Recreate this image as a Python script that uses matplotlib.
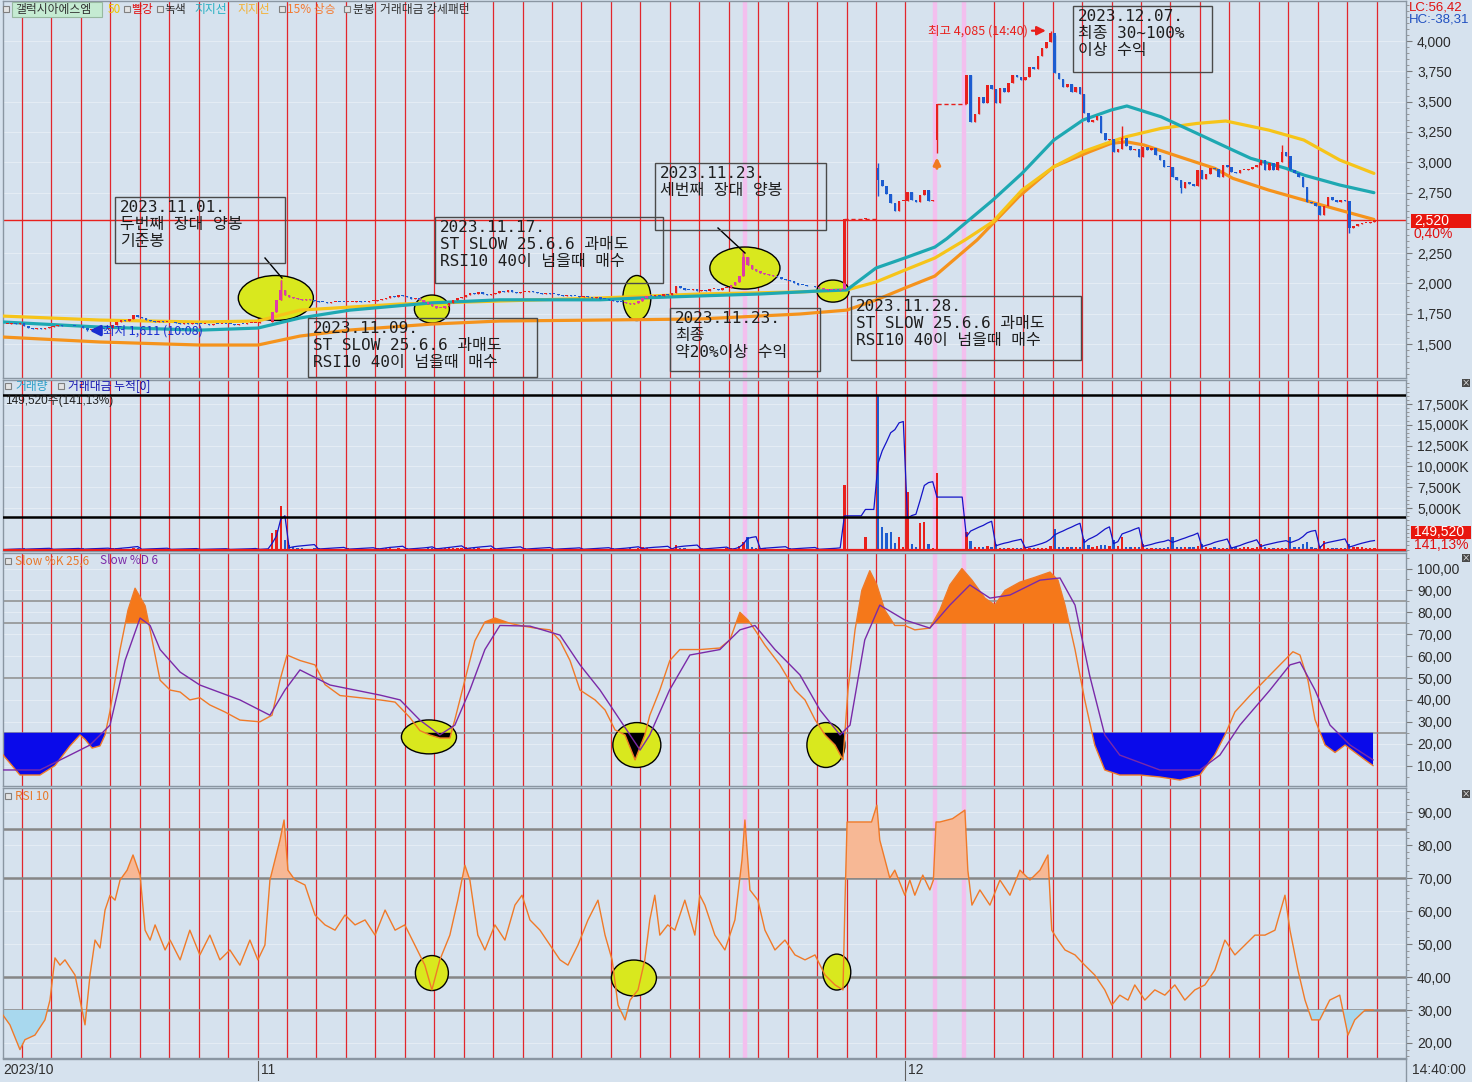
import numpy as np
import matplotlib
matplotlib.use("Agg")
import matplotlib.pyplot as plt
from matplotlib.patches import Rectangle, Ellipse
from matplotlib.ticker import MultipleLocator

plt.rcParams['font.family'] = ['Noto Sans CJK KR', 'DejaVu Sans']
plt.rcParams['axes.unicode_minus'] = False

nan = float('nan')
W, H = 1472, 1082

# ------------------------------------------------------------------ data
FIRST_DAY = -1          # partial session shown at the far left
SLOTS = 7               # hourly bars per session

close_days = [
    [nan, nan, nan, 1668, 1672, 1665, 1670],
    [1645, 1635, 1628, 1632, 1625, 1630, 1638],
    [1650, 1655, 1648, 1645, 1652, 1650, 1645],
    [1630, 1618, 1622, 1625, 1630, 1628, 1635],
    [1660, 1680, 1700, 1690, 1710, 1738, 1725],
    [1715, 1700, 1690, 1685, 1692, 1680, 1685],
    [1678, 1672, 1668, 1673, 1666, 1670, 1668],
    [1665, 1668, 1660, 1665, 1662, 1668, 1665],
    [1662, 1660, 1666, 1664, 1670, 1672, 1676],
    [1680, 1678, 1682, 1765, 1863, 1945, 1905],
    [1890, 1880, 1872, 1866, 1870, 1862, 1858],
    [1850, 1845, 1840, 1846, 1850, 1848, 1845],
    [1846, 1850, 1856, 1850, 1848, 1853, 1856],
    [1862, 1870, 1882, 1896, 1890, 1905, 1898],
    [1885, 1872, 1876, 1862, 1848, 1830, 1815],
    [1800, 1795, 1815, 1840, 1862, 1878, 1890],
    [1905, 1922, 1915, 1926, 1912, 1905, 1912],
    [1922, 1936, 1930, 1942, 1932, 1925, 1930],
    [1932, 1936, 1926, 1920, 1915, 1921, 1916],
    [1910, 1905, 1900, 1906, 1900, 1895, 1890],
    [1895, 1888, 1880, 1885, 1875, 1868, 1862],
    [1858, 1850, 1845, 1838, 1830, 1836, 1852],
    [1880, 1900, 1895, 1905, 1898, 1910, 1905],
    [1920, 1975, 1960, 1950, 1945, 1952, 1940],
    [1945, 1940, 1952, 1955, 1948, 1960, 1966],
    [1985, 2010, 2060, 2220, 2150, 2120, 2100],
    [2090, 2080, 2068, 2060, 2050, 2040, 2030],
    [2020, 2002, 1990, 1985, 1980, 1975, 1970],
    [1962, 1955, 1948, 1944, 1950, 1958, 2530],
    [nan, nan, nan, nan, 2530, nan, nan],
    [2850, 2800, 2740, 2660, 2600, 2680, 2680],
    [2757, 2690, 2675, 2730, 2770, 2680, 2690],
    [3480, nan, nan, nan, nan, nan, nan],
    [3720, 3330, 3400, 3540, 3485, 3640, 3600],
    [3485, 3610, 3580, 3650, 3720, 3705, 3680],
    [3700, 3788, 3770, 3880, 3940, 3990, 4063],
    [3733, 3690, 3623, 3645, 3582, 3620, 3560],
    [3403, 3335, 3350, 3380, 3238, 3183, 3190],
    [3087, 3110, 3197, 3130, 3100, 3110, 3046],
    [3128, 3100, 3115, 3060, 3018, 2963, 2960],
    [2880, 2853, 2790, 2840, 2820, 2800, 2935],
    [2865, 2905, 2950, 2945, 2880, 2975, 2960],
    [2920, 2910, 2935, 2935, 2940, 2960, 2975],
    [3018, 2935, 2990, 2935, 3005, 3087, 3050],
    [2935, 2908, 2880, 2798, 2675, 2660, 2640],
    [2565, 2640, 2715, 2690, 2675, 2690, 2680],
    [2455, 2475, 2490, 2500, 2500, 2510, 2520],
]

volume_days = [   # thousand shares
    [0, 0, 0, 80, 60, 50, 70],
    [150, 60, 50, 40, 60, 50, 80],
    [120, 60, 40, 50, 40, 50, 70],
    [160, 90, 60, 50, 40, 50, 90],
    [200, 150, 180, 100, 120, 200, 150],
    [120, 80, 60, 50, 50, 60, 80],
    [100, 50, 40, 40, 40, 50, 60],
    [80, 40, 40, 30, 40, 40, 60],
    [80, 40, 50, 40, 50, 60, 90],
    [100, 80, 90, 2000, 2350, 5240, 1150],
    [600, 300, 200, 150, 120, 120, 150],
    [200, 100, 80, 80, 70, 80, 120],
    [150, 80, 80, 70, 60, 80, 100],
    [200, 150, 200, 180, 100, 150, 120],
    [150, 100, 90, 100, 120, 150, 200],
    [250, 150, 150, 180, 160, 150, 200],
    [300, 200, 150, 150, 120, 100, 150],
    [200, 150, 100, 120, 100, 80, 120],
    [150, 100, 80, 80, 70, 80, 100],
    [120, 80, 70, 70, 60, 70, 100],
    [120, 80, 80, 70, 70, 80, 120],
    [150, 100, 100, 120, 150, 120, 200],
    [300, 250, 120, 100, 80, 120, 100],
    [200, 550, 200, 150, 100, 100, 120],
    [150, 100, 100, 100, 80, 100, 150],
    [150, 150, 400, 950, 1550, 300, 200],
    [250, 150, 100, 100, 80, 80, 100],
    [150, 100, 80, 80, 70, 70, 100],
    [100, 80, 80, 70, 90, 120, 7765],
    [0, 0, 0, 0, 1550, 0, 0],
    [18580, 2740, 1940, 2140, 740, 1550, 300],
    [6960, 620, 300, 3150, 3270, 660, 200],
    [9250, 0, 0, 0, 0, 0, 0],
    [2140, 1020, 350, 350, 300, 400, 300],
    [660, 250, 200, 150, 200, 150, 150],
    [300, 150, 150, 200, 200, 250, 400],
    [2430, 350, 300, 350, 300, 350, 300],
    [1260, 600, 350, 400, 600, 600, 400],
    [1180, 400, 1470, 300, 300, 350, 300],
    [630, 200, 200, 250, 200, 150, 300],
    [1550, 300, 350, 300, 350, 300, 400],
    [630, 300, 250, 350, 250, 200, 250],
    [300, 300, 250, 350, 300, 250, 300],
    [630, 300, 200, 200, 200, 150, 150],
    [1470, 300, 350, 630, 900, 350, 170],
    [400, 1020, 250, 200, 200, 200, 200],
    [630, 300, 350, 300, 250, 250, 150],
]

open_override = {(29, 0): 2950, (31, 0): 3180}
high_override = {(8, 5): 2030, (24, 3): 2265, (29, 0): 2990, (34, 6): 4085,
                 (35, 0): 4050, (37, 2): 3300, (42, 5): 3140}
low_override = {(2, 1): 1611, (29, 0): 2720, (31, 0): 3073, (39, 2): 2745, (45, 0): 2420}

# moving-average style lines: (session position, price)
ma_yellow = [(-0.65, 1731), (2.65, 1698), (6.04, 1682), (8.01, 1690), (9.44, 1780),
             (12.84, 1830), (16.23, 1855), (19.63, 1880), (23.02, 1913), (26.42, 1930),
             (28.01, 1946), (29.0, 2012), (29.98, 2110), (31.0, 2210), (32.02, 2358),
             (32.97, 2509), (33.96, 2770), (35.04, 2963), (36.03, 3087), (36.98, 3169),
             (37.49, 3210), (38.68, 3279), (39.90, 3320), (40.88, 3340), (42.34, 3265),
             (43.53, 3183), (44.75, 3018), (45.91, 2908)]
ma_teal = [(-0.65, 1682), (2.65, 1640), (6.04, 1615), (8.01, 1632), (9.44, 1715),
           (11.14, 1780), (13.92, 1840), (16.23, 1865), (19.63, 1865), (20.99, 1880),
           (23.02, 1897), (25.06, 1913), (27.1, 1938), (28.01, 1946), (29.0, 2127),
           (29.98, 2210), (31.0, 2300), (31.41, 2370), (31.85, 2460), (32.97, 2688),
           (33.96, 2908), (35.04, 3183), (36.03, 3348), (36.98, 3430), (37.52, 3464),
           (38.68, 3375), (39.90, 3238), (41.12, 3100), (41.73, 3032), (42.92, 2950),
           (43.53, 2894), (44.75, 2812), (45.91, 2749)]
ma_orange = [(-0.65, 1558), (2.65, 1517), (6.04, 1492), (8.01, 1492), (9.44, 1566),
             (11.14, 1616), (13.92, 1665), (16.23, 1690), (19.63, 1698), (23.02, 1707),
             (26.42, 1748), (28.01, 1780), (29.0, 1863), (29.98, 1962), (31.0, 2061),
             (32.43, 2358), (33.85, 2716), (35.04, 2963), (36.26, 3087), (36.98, 3155),
             (37.49, 3169), (38.10, 3142), (39.29, 3046), (40.51, 2949), (41.12, 2867),
             (42.34, 2770), (43.53, 2688), (44.75, 2605), (45.91, 2528)]

stoch_k_day = [-0.65, -0.07, 0.61, 1.12, 1.63, 1.97, 2.14, 2.38, 2.65, 2.82,
               2.99, 3.33, 3.60, 3.84, 4.18, 4.35, 4.69, 5.03, 5.37, 5.70,
               6.04, 6.38, 6.89, 7.40, 8.08, 8.49, 8.76, 9.00, 9.44, 9.95,
               10.29, 10.80, 11.48, 12.16, 12.67, 13.17, 13.51, 13.85, 14.19, 14.53,
               14.70, 15.04, 15.38, 15.72, 16.06, 16.57, 16.91, 17.42, 17.93, 18.27,
               18.61, 18.95, 19.46, 19.80, 20.14, 20.48, 20.82, 21.15, 21.32, 21.66,
               22.00, 22.34, 23.02, 23.70, 24.04, 24.38, 24.65, 24.89, 25.23, 25.74,
               26.25, 26.59, 26.93, 27.27, 27.61, 27.88, 28.05, 28.29, 28.52, 28.79,
               29.03, 29.30, 29.64, 29.98, 30.32, 30.83, 31.17, 31.51, 31.92, 32.26,
               32.70, 33.04, 33.38, 33.89, 34.40, 34.91, 35.18, 35.42, 35.76, 36.09,
               36.43, 36.77, 37.28, 37.96, 38.64, 39.32, 40.00, 40.51, 40.85, 41.19,
               41.70, 42.21, 42.72, 43.16, 43.40, 43.67, 43.91, 44.25, 44.59, 44.93,
               45.27, 45.61, 45.88]
stoch_k = [15, 5.7, 5.7, 10, 19, 24, 22, 18, 19, 24,
           35, 63, 81, 91, 83, 72, 49, 44.5, 43.6, 40,
           41, 37.7, 34.5, 30.8, 30, 33, 49, 60.5, 58, 56,
           47, 42, 41, 40, 39, 32, 26, 24, 22.6, 22.6,
           31, 49, 67, 75.6, 77.4, 75, 74, 72.8, 72, 67,
           58, 44.5, 40, 35.4, 26.3, 24, 12.6, 24, 33, 44.5,
           58, 63, 63, 63.7, 67.4, 80, 76.5, 72, 65, 56,
           44.5, 40, 31, 24, 19.4, 12.6, 44.5, 72, 90, 99,
           92.5, 81, 74, 74, 72, 72.8, 81, 92.5, 100, 94.7,
           86.5, 83.3, 90, 93.8, 96, 98.4, 94.7, 83.3, 63, 40,
           19.4, 8, 5.7, 5.7, 4.8, 3.4, 5.7, 15, 24, 34.5,
           42, 49, 56, 62, 60.5, 49, 31, 19.4, 16, 19.4,
           16, 12.6, 10]
stoch_d_day = [-0.65, 0.61, 1.63, 2.31, 2.99, 3.50, 4.01, 4.35, 4.69, 5.37,
               6.04, 7.40, 8.42, 8.93, 9.44, 10.46, 12.16, 12.84, 13.51, 14.19,
               14.70, 15.21, 15.72, 16.23, 17.25, 18.27, 18.95, 19.63, 20.31, 20.99,
               21.32, 21.99, 22.68, 23.70, 24.38, 24.89, 25.57, 26.42, 27.10, 27.78,
               28.12, 28.62, 29.13, 29.98, 30.83, 31.51, 32.19, 32.87, 33.55, 34.57,
               35.25, 35.76, 36.26, 36.77, 37.28, 38.64, 40.00, 40.68, 41.36, 42.38,
               43.06, 43.40, 43.91, 44.42, 45.10, 45.88]
stoch_d = [8, 8, 14.8, 19.4, 28.5, 58, 77.4, 74, 63, 52.7,
           46.8, 40, 33, 44.5, 53.7, 46.8, 42.2, 40, 30.8, 24,
           28.5, 44.5, 63, 74, 73.7, 69.6, 56, 44.5, 30.8, 17.1,
           24, 44.5, 60.5, 63, 72, 74, 63, 51.4, 35.4, 24,
           28.5, 67.4, 83.3, 76.5, 72.8, 83.3, 92.5, 86.5, 87.9, 94.7,
           95.7, 83.3, 51, 24, 14.8, 8, 8, 14.8, 28.5, 44.5,
           56, 57.3, 44.5, 28.5, 19.4, 12.6]

rsi_points = [(-0.65, 28.5), (-0.41, 25.5), (-0.07, 18), (0.10, 21), (0.44, 22.4), (0.78, 27),
              (0.95, 33), (1.12, 45.8), (1.29, 43.6), (1.46, 45.2), (1.80, 40.6), (1.97, 33),
              (2.14, 25.5), (2.31, 40.6), (2.48, 51.2), (2.65, 48.8), (2.82, 60.3), (2.99, 64.8),
              (3.16, 63.3), (3.33, 69.4), (3.57, 72.4), (3.77, 77), (4.01, 70.9), (4.18, 54.2),
              (4.35, 51.2), (4.52, 55.8), (4.86, 48.2), (5.03, 51.2), (5.37, 45.2), (5.70, 54.2),
              (6.04, 46.7), (6.38, 52.7), (6.72, 45.2), (7.06, 48.2), (7.40, 43.6), (7.74, 51.2),
              (8.01, 45.2), (8.25, 49.7), (8.42, 69.4), (8.59, 75.5), (8.76, 81.5), (8.90, 87.6),
              (9.03, 72.4), (9.27, 69.4), (9.61, 67.9), (9.95, 58.8), (10.29, 55.8), (10.63, 54.2),
              (10.97, 58.8), (11.31, 55.8), (11.65, 57.3), (11.99, 52.7), (12.33, 60.3), (12.67, 54.2),
              (13.00, 55.8), (13.34, 49.7), (13.68, 43.6), (13.92, 36.1), (14.19, 45.2), (14.53, 52.7),
              (14.80, 63.3), (15.04, 73.9), (15.21, 69.4), (15.48, 52.7), (15.72, 48.2), (16.06, 55.8),
              (16.40, 51.2), (16.74, 61.8), (16.98, 64.8), (17.25, 57.3), (17.59, 54.2), (17.93, 49.7),
              (18.27, 45.2), (18.54, 43.6), (18.88, 49.7), (19.22, 57.3), (19.56, 63.3), (19.80, 52.7),
              (20.04, 45.2), (20.24, 31.5), (20.48, 27), (20.65, 33), (20.92, 36.1), (21.15, 45.2),
              (21.32, 57.3), (21.49, 64.8), (21.66, 52.7), (21.93, 55.8), (22.17, 54.2), (22.51, 63.3),
              (22.85, 52.7), (23.02, 64.8), (23.19, 61.8), (23.53, 52.7), (23.87, 48.2), (24.21, 57.3),
              (24.45, 75.5), (24.55, 87.6), (24.72, 66.4), (24.99, 63.3), (25.23, 54.2), (25.57, 48.2),
              (25.91, 51.2), (26.25, 46.7), (26.59, 45.2), (26.93, 46.7), (27.27, 40.6), (27.61, 37.6),
              (27.88, 36.1), (27.95, 63.3), (28.02, 87), (28.50, 87), (28.85, 87), (29.03, 92.1),
              (29.13, 81.5), (29.47, 70), (29.64, 72.4), (29.98, 64.8), (30.15, 69.4), (30.32, 64.8),
              (30.59, 70.9), (30.83, 66.4), (30.95, 69.4), (31.04, 87), (31.17, 87), (31.60, 88),
              (32.02, 90.6), (32.12, 72.4), (32.26, 61.8), (32.53, 66.4), (32.87, 61.8), (33.21, 69.4),
              (33.55, 64.8), (33.89, 72.4), (34.23, 69.4), (34.57, 72.4), (34.84, 77), (34.97, 54.2),
              (35.18, 51.2), (35.42, 48.2), (35.76, 46.7), (36.09, 43.6), (36.43, 40.6), (36.77, 36.1),
              (37.01, 31.5), (37.28, 34.5), (37.56, 33), (37.79, 37.6), (38.13, 33), (38.47, 36.1),
              (38.81, 34.5), (39.15, 37.6), (39.49, 33), (39.83, 36.1), (40.17, 37.6), (40.51, 42.1),
              (40.85, 51.2), (41.19, 46.7), (41.53, 49.7), (41.87, 52.7), (42.21, 52.7), (42.55, 54.2),
              (42.89, 64.8), (43.06, 54.2), (43.33, 42.1), (43.57, 33), (43.80, 27), (44.07, 27),
              (44.41, 33), (44.75, 34.5), (45.03, 22.4), (45.26, 27), (45.61, 30), (45.88, 30)]

price_ticks = [1500, 1750, 2000, 2250, 2750, 3000, 3250, 3500, 3750, 4000]
volume_ticks = [5000, 7500, 10000, 12500, 15000, 17500]
stoch_ticks = [10, 20, 30, 40, 50, 60, 70, 80, 90, 100]
rsi_ticks = [20, 30, 40, 50, 60, 70, 80, 90]
stoch_levels = [85, 75, 50, 25]
rsi_levels = [85, 70, 40, 30]
VOL_REF_LINE = 3900
CUM_SCALE = 5100.0     # trading value -> volume-axis units

# ------------------------------------------------------------------ build bars
xs, op, hi, lo, cl, vo, sl = [], [], [], [], [], [], []
prev_close = None
for di, (cday, vday) in enumerate(zip(close_days, volume_days)):
    day = FIRST_DAY + di
    for j in range(SLOTS):
        cc = cday[j]
        xs.append(day + (j + 0.5) / SLOTS)
        sl.append(j)
        vo.append(vday[j])
        if np.isnan(cc):
            op.append(nan); hi.append(nan); lo.append(nan); cl.append(nan)
            continue
        oo = open_override.get((day, j), prev_close if prev_close is not None else cc)
        op.append(oo)
        cl.append(cc)
        hi.append(high_override.get((day, j), max(oo, cc)))
        lo.append(low_override.get((day, j), min(oo, cc)))
        prev_close = cc
xs, op, hi, lo, cl, vo, sl = map(np.array, (xs, op, hi, lo, cl, vo, sl))
valid = ~np.isnan(cl)

cum_line = np.zeros(len(xs))
run = 0.0
for i in range(len(xs)):
    if valid[i]:
        if sl[i] == 0:
            run = 0.0
        run += vo[i] * cl[i] / CUM_SCALE
    cum_line[i] = run

# ------------------------------------------------------------------ styling
BG = '#d6e2ee'
RED = '#e8201c'
BLUE = '#1c5cd0'
DAYLINE = '#e2262c'
PINK = '#f3bfee'
NARROW = ['Liberation Sans', 'Noto Sans CJK KR']
XLIM = (-0.645, 47.0)

fig = plt.figure(figsize=(W / 100, H / 100), dpi=100, facecolor=BG)


def ftext(px, py, s, **kw):
    return fig.text(px / W, 1 - py / H, s, **kw)


def frect(px, py, w, h, **kw):
    r = Rectangle((px / W, 1 - (py + h) / H), w / W, h / H, transform=fig.transFigure, **kw)
    fig.add_artist(r)
    return r


def panel(top, bottom, ylim, ticks, minor, fmt):
    ax = fig.add_axes([3 / W, 1 - bottom / H, 1403 / W, (bottom - top) / H])
    ax.set_facecolor(BG)
    ax.set_xlim(*XLIM)
    ax.set_ylim(*ylim)
    ax.set_xticks([])
    ax.yaxis.tick_right()
    ax.set_yticks(ticks, labels=[fmt(t) for t in ticks], fontfamily=NARROW, fontsize=10,
                  color='#2b2b2b')
    ax.yaxis.set_minor_locator(MultipleLocator(minor))
    ax.tick_params(axis='y', which='major', length=4, width=0.8, color='#7a7a7a', pad=4)
    ax.tick_params(axis='y', which='minor', length=2, width=0.6, color='#8a8a8a')
    for s in ax.spines.values():
        s.set_color('#8a96a2')
        s.set_linewidth(1)
    for t in ticks:
        ax.axhline(t, color='#e4ecf4', lw=0.8, zorder=0.5)
    for d in range(0, 47):
        if d in (31, 32):
            continue
        ax.axvline(d, color=DAYLINE, lw=0.9, zorder=1)
    for d in (24.55, 31, 32):
        ax.axvline(d, color=PINK, lw=3.2, zorder=1)
    return ax


ax1 = panel(1, 378, (1220, 4330), price_ticks, 50, lambda v: f"{v:,}")
ax2 = panel(380, 551, (-168, 20386), volume_ticks, 500, lambda v: f"{v:,}K")
ax3 = panel(553, 786, (0.68, 107.1), stoch_ticks, 5, lambda v: f"{v},00")
ax4 = panel(788, 1058, (15.45, 97.3), rsi_ticks, 2, lambda v: f"{v},00")
ax1.set_yticks([2500], minor=False) if False else None
ax2.yaxis.set_minor_locator(MultipleLocator(500))

# ------------------------------------------------------------------ price panel
for pts, col in ((ma_orange, '#f5931c'), (ma_yellow, '#f6c419'), (ma_teal, '#1ea8b2')):
    a = np.array(pts)
    ax1.plot(a[:, 0], a[:, 1], color=col, lw=2.3, zorder=3, solid_capstyle='round')

price_circles = [((8.62, 1880), 2.55, 371), ((13.92, 1789), 1.19, 231), ((20.88, 1880), 0.95, 371),
                 ((24.55, 2127), 2.38, 347), ((27.54, 1937), 1.09, 182)]
ellipses1 = []
for (cx, cy), w, h in price_circles:
    e = Ellipse((cx, cy), w, h, facecolor='#d9e81e', edgecolor='black', lw=1, zorder=2.5)
    ax1.add_patch(e)
    ellipses1.append(e)


def draw_candles(ax, cu, cd, clip=None, z=6):
    up = cl >= op
    cols = np.where(up, cu, cd)
    bot = np.minimum(op, cl)
    hgt = np.maximum(np.abs(cl - op), 8)
    bars = ax.bar(xs[valid], hgt[valid], bottom=bot[valid], width=0.62 / SLOTS,
                  color=cols[valid], lw=0, zorder=z)
    wick = ax.vlines(xs[valid], lo[valid], hi[valid], colors=cols[valid], lw=1, zorder=z - 0.1)
    if clip is not None:
        for p in bars.patches:
            p.set_clip_path(clip)
        wick.set_clip_path(clip)


draw_candles(ax1, RED, BLUE)
for e in ellipses1:
    draw_candles(ax1, '#e03aa8', '#e03aa8', clip=e, z=6.5)

vidx = np.where(valid)[0]
for a_, b_ in zip(vidx[:-1], vidx[1:]):
    if b_ - a_ > 1:
        ax1.plot([xs[a_], xs[b_]], [cl[a_], cl[a_]], color=RED, lw=1, ls=(0, (3, 2)), zorder=5)

last_close = cl[vidx[-1]]
ax1.axhline(last_close, color=RED, lw=1, zorder=2)

i_hi = int(np.nanargmax(hi))
ax1.annotate(f"최고 {int(hi[i_hi]):,} (14:40)", xy=(xs[i_hi] - 0.16, hi[i_hi]),
             xytext=(-13, 0), textcoords='offset points', ha='right', va='center',
             fontsize=9, color=RED,
             arrowprops=dict(arrowstyle='-|>', color=RED, lw=1.6, mutation_scale=13,
                             shrinkA=1, shrinkB=0), zorder=8)
i_lo = int(np.nanargmin(lo))
ax1.annotate(f"최저 {int(lo[i_lo]):,} (10:08)", xy=(xs[i_lo] + 0.08, lo[i_lo]),
             xytext=(10, 0), textcoords='offset points', ha='left', va='center',
             fontsize=9, color='#1a2fd0',
             arrowprops=dict(arrowstyle='-|>', color='#1a2fd0', lw=2.2, mutation_scale=15,
                             shrinkA=1, shrinkB=0), zorder=8)
# +15% signal arrow under the gap-up bar
sig_x = 31 + 0.5 / SLOTS
ax1.annotate('', xy=(sig_x, 3040), xytext=(sig_x, 2950),
             arrowprops=dict(arrowstyle='-|>', color='#f07a20', lw=2.2, mutation_scale=10,
                             shrinkA=0, shrinkB=0), zorder=8)

# ------------------------------------------------------------------ volume panel
vcols = np.where(cl >= op, RED, BLUE)
m = valid & (vo > 0)
ax2.bar(xs[m], vo[m], width=0.55 / SLOTS, color=vcols[m], lw=0, zorder=3)
ax2.plot(xs, cum_line, color='#1414c8', lw=0.9, zorder=4)
ax2.axhline(0, color=RED, lw=1.6, zorder=4)
ax2.axhline(vo.max(), color='black', lw=1.8, zorder=4)
ax2.axhline(VOL_REF_LINE, color='black', lw=1.8, zorder=4)

# ------------------------------------------------------------------ stochastic panel
kx, kv = np.array(stoch_k_day), np.array(stoch_k)
dx, dv = np.array(stoch_d_day), np.array(stoch_d)
for lv in stoch_levels:
    ax3.axhline(lv, color='#8c8c8c', lw=1.1, zorder=1.5)
ax3.fill_between(kx, kv, 75, where=kv > 75, interpolate=True, color='#f5781a', lw=0, zorder=2)
ax3.fill_between(kx, kv, 25, where=kv < 25, interpolate=True, color='#0a0aea', lw=0, zorder=2)
stoch_circles = [((13.82, 23.1), 1.87, 15.5), ((20.88, 19.4), 1.63, 20.5), ((27.30, 19.4), 1.29, 20.5)]
for (cx, cy), w, h in stoch_circles:
    e = Ellipse((cx, cy), w, h, facecolor='#d9e81e', edgecolor='black', lw=1, zorder=3)
    ax3.add_patch(e)
    fb = ax3.fill_between(kx, kv, 25, where=kv < 25, interpolate=True, color='black', lw=0,
                          zorder=3.5)
    fb.set_clip_path(e)
ax3.plot(kx, kv, color='#f07a28', lw=1.0, zorder=4)
ax3.plot(dx, dv, color='#7a2aa8', lw=1.0, zorder=4.1)

# ------------------------------------------------------------------ RSI panel
rp = np.array(rsi_points)
rx, rv = rp[:, 0], rp[:, 1]
for lv in rsi_levels:
    ax4.axhline(lv, color='#868686', lw=1.8, zorder=1.5)
ax4.fill_between(rx, rv, 70, where=rv > 70, interpolate=True, color='#f7b895', lw=0, zorder=2)
ax4.fill_between(rx, rv, 30, where=rv < 30, interpolate=True, color='#a8d8ee', lw=0, zorder=2)
rsi_circles = [((13.92, 41.2), 1.12, 10.6), ((20.78, 39.7), 1.53, 10.9), ((27.67, 41.5), 0.95, 10.9)]
for (cx, cy), w, h in rsi_circles:
    ax4.add_patch(Ellipse((cx, cy), w, h, facecolor='#d9e81e', edgecolor='black', lw=1, zorder=3))
ax4.plot(rx, rv, color='#f07a28', lw=1.0, zorder=4)

# ------------------------------------------------------------------ annotation boxes
MONO = ['DejaVu Sans Mono', 'Noto Sans CJK KR']
boxes = [
    ((115, 197, 170, 66), "2023.11.01.\n두번째 장대 양봉\n기준봉"),
    ((308, 318, 229, 59), "2023.11.09.\nST SLOW 25.6.6 과매도\nRSI10 40이 넘을때 매수"),
    ((435, 217, 228, 66), "2023.11.17.\nST SLOW 25.6.6 과매도\nRSI10 40이 넘을때 매수"),
    ((655, 163, 171, 67), "2023.11.23.\n세번째 장대 양봉"),
    ((670, 308, 150, 63), "2023.11.23.\n최종\n약20%이상 수익"),
    ((851, 296, 230, 64), "2023.11.28.\nST SLOW 25.6.6 과매도\nRSI10 40이 넘을때 매수"),
    ((1073, 6, 139, 66), "2023.12.07.\n최종 30~100%\n이상 수익"),
]
for (bx, by, bw, bh), txt in boxes:
    frect(bx, by, bw, bh, fill=False, edgecolor='#4a4a4a', lw=1, zorder=9)
    ftext(bx + 5, by + 3, txt, ha='left', va='top', fontsize=11.5, family=MONO,
          color='#1e1e1e', linespacing=1.15, zorder=9)
for (x0, y0, x1, y1) in [(265, 258, 282, 278), (718, 228, 745, 253)]:
    fig.add_artist(plt.Line2D([x0 / W, x1 / W], [1 - y0 / H, 1 - y1 / H], color='black', lw=1,
                              transform=fig.transFigure))

# ------------------------------------------------------------------ legends / labels
def sq(px, py):
    frect(px, py - 3, 6, 6, facecolor='#e4e4e4', edgecolor='#808080', lw=0.8)


LEG = 8.5
sq(3, 9)
frect(12, 2, 90, 15, facecolor='#c5ebd2', edgecolor='#97b8a0', lw=0.8)
ftext(15, 9.5, "갤럭시아에스엠", fontsize=LEG, color='#303030', va='center')
ftext(108, 9.5, "50", fontsize=LEG, color='#f0c400', va='center')
sq(124, 9)
ftext(131, 9.5, "빨강", fontsize=LEG, color='#e01010', va='center')
sq(157, 9)
ftext(164, 9.5, "녹색", fontsize=LEG, color='#303030', va='center')
ftext(194, 9.5, "지지선", fontsize=LEG, color='#25b0c2', va='center')
ftext(237, 9.5, "지지선", fontsize=LEG, color='#f4b030', va='center')
sq(279, 9)
ftext(287, 9.5, "15% 상승", fontsize=LEG, color='#f47a30', va='center')
sq(344, 9)
ftext(353, 9.5, "분봉  거래대금 강세패턴", fontsize=LEG, color='#303030', va='center')

sq(5, 386)
ftext(15, 386, "거래량", fontsize=LEG, color='#2a9ec8', va='center')
sq(58, 386)
ftext(68, 386, "거래대금 누적[0]", fontsize=LEG, color='#1414b0', va='center')
ftext(5, 401, "149,520주(141,13%)", fontsize=LEG, color='#202020', va='center', family=NARROW)

sq(5, 561)
ftext(15, 561, "Slow %K 25,6", fontsize=LEG, color='#e8782a', va='center')
ftext(100, 561, "Slow %D 6", fontsize=LEG, color='#7a2aa8', va='center')
sq(5, 796)
ftext(15, 796, "RSI 10", fontsize=LEG, color='#e8782a', va='center')

# right-hand tags
ftext(1409, 8, "LC:56,42", fontsize=9.5, color='#e01010', va='center', family=NARROW)
ftext(1409, 19, "HC:-38,31", fontsize=9.5, color='#1f4fc0', va='center', family=NARROW)
frect(1411, 214, 60, 14, facecolor='#e8160e', edgecolor='none')
ftext(1414, 221, f"{int(last_close):,}", fontsize=10, color='white', va='center', family=NARROW)
ftext(1414, 234, "0,40%", fontsize=10, color='#e01010', va='center', family=NARROW)
frect(1411, 526, 60, 13, facecolor='#e8160e', edgecolor='none')
ftext(1414, 532.5, "149,520", fontsize=10, color='white', va='center', family=NARROW)
ftext(1414, 545, "141,13%", fontsize=10, color='#e01010', va='center', family=NARROW)

for by in (383, 558, 794):
    frect(1462, by - 4, 8, 8, facecolor='#4a4a4a', edgecolor='none')
    ftext(1466, by, "×", fontsize=6, color='white', ha='center', va='center')

# bottom time axis
fig.add_artist(plt.Line2D([3 / W, 1406 / W], [1 - 1059 / H] * 2, color='#8a96a2', lw=1,
                          transform=fig.transFigure))
fig.add_artist(plt.Line2D([1406 / W, 1406 / W], [0, 1 - 1059 / H], color='#8a96a2', lw=1,
                          transform=fig.transFigure))
for px in (258, 905):
    fig.add_artist(plt.Line2D([px / W] * 2, [1 - 1061 / H, 1 - 1080 / H], color='#606060', lw=0.8,
                              transform=fig.transFigure))
ftext(3, 1070, "2023/10", fontsize=10, color='#303030', va='center', family=NARROW)
ftext(261, 1070, "11", fontsize=10, color='#303030', va='center', family=NARROW)
ftext(908, 1070, "12", fontsize=10, color='#303030', va='center', family=NARROW)
ftext(1412, 1070, "14:40:00", fontsize=10, color='#303030', va='center', family=NARROW)

fig.savefig("out.png", dpi=100, facecolor=BG)
